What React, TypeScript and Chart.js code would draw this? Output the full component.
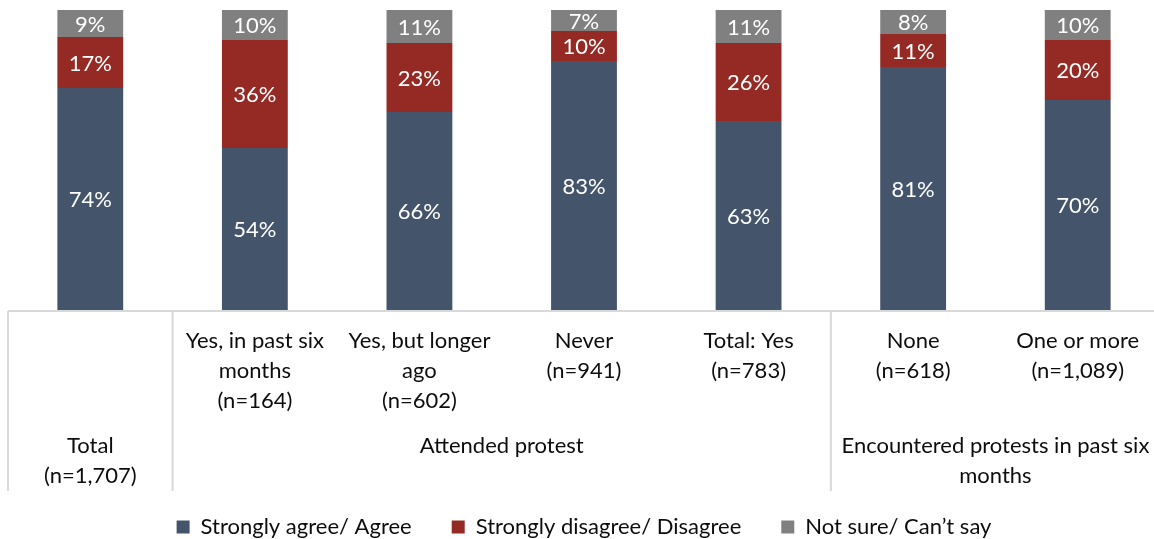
import { useEffect, useRef } from "react";
import { Chart, registerables } from "chart.js";

Chart.register(...registerables);

const categories = [
  "Total",
  "Yes, in past six months",
  "Yes, but longer ago",
  "Never",
  "Total: Yes",
  "None",
  "One or more",
];
// Labels drawn right under each bar (first row block)
const categoryLines: string[][] = [
  [],
  ["Yes, in past six", "months", "(n=164)"],
  ["Yes, but longer", "ago", "(n=602)"],
  ["Never", "(n=941)"],
  ["Total: Yes", "(n=783)"],
  ["None", "(n=618)"],
  ["One or more", "(n=1,089)"],
];
// Group labels (second row block): lines, first category, last category
const groupLines: string[][] = [
  ["Total", "(n=1,707)"],
  ["Attended protest"],
  ["Encountered protests in past six", "months"],
];
const groupFrom = [0, 1, 5];
const groupTo = [0, 4, 6];

const seriesNames = ["Strongly agree/ Agree", "Strongly disagree/ Disagree", "Not sure/ Can\u2019t say"];
const agree = [74, 54, 66, 83, 63, 81, 70];
const disagree = [17, 36, 23, 10, 26, 11, 20];
const notSure = [9, 10, 11, 7, 11, 8, 10];
const seriesColors = ["#44546A", "#952923", "#808080"];

const FONT = "Lato, 'Noto Sans', sans-serif";
const FS = 22;

const labelsPlugin = {
  id: "customLabels",
  afterDatasetsDraw(chart: any) {
    const ctx = chart.ctx;
    ctx.save();
    ctx.font = `${FS}px ${FONT}`;
    ctx.fillStyle = "#ffffff";
    ctx.textAlign = "center";
    ctx.textBaseline = "middle";
    chart.data.datasets.forEach((ds: any, di: number) => {
      const meta = chart.getDatasetMeta(di);
      meta.data.forEach((el: any, i: number) => {
        const v = ds.data[i];
        ctx.fillText(`${v}%`, el.x, (el.y + el.base) / 2 + 1);
      });
    });
    ctx.restore();
  },
  afterDraw(chart: any) {
    const ctx = chart.ctx;
    const xs = chart.scales.x;
    const area = chart.chartArea;
    const half = (xs.getPixelForValue(1) - xs.getPixelForValue(0)) / 2;
    const base = area.bottom;
    ctx.save();
    ctx.strokeStyle = "#D9D9D9";
    ctx.lineWidth = 2;
    ctx.beginPath();
    ctx.moveTo(xs.getPixelForValue(0) - half, base + 1);
    ctx.lineTo(xs.getPixelForValue(categories.length - 1) + half, base + 1);
    const edges: number[] = [];
    groupFrom.forEach((f) => edges.push(xs.getPixelForValue(f) - half));
    edges.push(xs.getPixelForValue(categories.length - 1) + half);
    edges.forEach((ex) => {
      ctx.moveTo(ex, base + 1);
      ctx.lineTo(ex, base + 181);
    });
    ctx.stroke();

    ctx.fillStyle = "#0d0d0d";
    ctx.font = `${FS}px ${FONT}`;
    ctx.textAlign = "center";
    ctx.textBaseline = "middle";
    categoryLines.forEach((lines, i) => {
      const cx = xs.getPixelForValue(i);
      lines.forEach((t, li) => ctx.fillText(t, cx, base + 31 + li * 30));
    });
    groupLines.forEach((lines, gi) => {
      const cx = (xs.getPixelForValue(groupFrom[gi]) + xs.getPixelForValue(groupTo[gi])) / 2;
      lines.forEach((t, li) => ctx.fillText(t, cx, base + 136 + li * 29.5));
    });
    ctx.restore();
  },
};

export default function App() {
  const ref = useRef<HTMLCanvasElement>(null);
  useEffect(() => {
    if (!ref.current) return;
    const values = [agree, disagree, notSure];
    const chart = new Chart(ref.current, {
      type: "bar",
      data: {
        labels: categories,
        datasets: values.map((d, i) => ({
          label: seriesNames[i],
          data: d,
          backgroundColor: seriesColors[i],
          borderWidth: 0,
          barPercentage: 0.4,
          categoryPercentage: 1,
        })),
      },
      options: {
        animation: false,
        responsive: true,
        maintainAspectRatio: false,
        layout: { padding: { left: 8, right: 0, top: 10, bottom: 0 } },
        scales: {
          x: {
            stacked: true,
            grid: { display: false },
            border: { display: false },
            ticks: { display: false },
            afterFit: (scale: any) => {
              scale.height = 166;
            },
          },
          y: { stacked: true, display: false, min: 0, max: 100 },
        },
        plugins: {
          tooltip: { enabled: false },
          legend: {
            position: "bottom",
            labels: {
              boxWidth: 13,
              boxHeight: 13,
              padding: 40,
              color: "#0d0d0d",
              font: { family: FONT, size: FS },
            },
          },
        },
      },
      plugins: [labelsPlugin],
    });
    return () => chart.destroy();
  }, []);
  return (
    <div style={{ position: "fixed", left: 0, top: 0, width: 1154, height: 539, overflow: "hidden", background: "#fff" }}>
      <div style={{ position: "relative", width: 1160, height: 548 }}>
        <canvas ref={ref} />
      </div>
    </div>
  );
}
